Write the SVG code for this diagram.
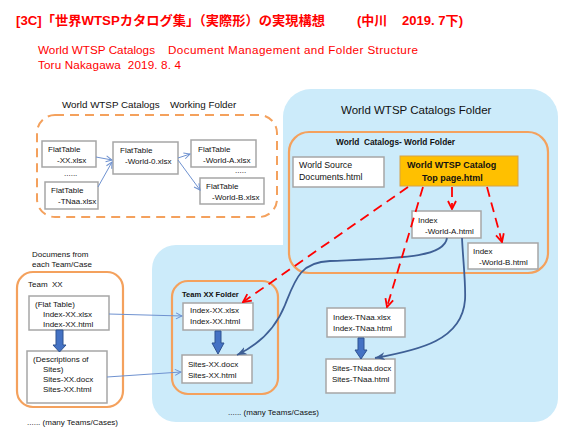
<svg xmlns="http://www.w3.org/2000/svg" width="565" height="431" viewBox="0 0 565 431">
<defs>
<style>
.t{font-family:"Liberation Sans",Arial,sans-serif;font-size:8px;fill:#111;white-space:pre}
.b{font-weight:bold}
.h{font-family:"Liberation Sans","Noto Sans CJK JP",sans-serif;font-weight:bold;font-size:13px;fill:#FF0000;white-space:pre}
.s{font-family:"Liberation Sans",Arial,sans-serif;font-size:11.7px;fill:#FF0000;white-space:pre}
.box{fill:#fff;stroke:#A6A6A6;stroke-width:1.5}
.or{fill:none;stroke:#F4A15D;stroke-width:2.2}
.red{fill:none;stroke:#FF0000;stroke-width:1.8;stroke-dasharray:10 6}
.blue{fill:none;stroke:#3E5F95;stroke-width:1.8}
.thin{fill:none;stroke:#6F92D0;stroke-width:1}
.blk{fill:#4472C4;stroke:#2F528F;stroke-width:1}
.bg{fill:#CCEBFA}
</style>
<marker id="mr" viewBox="0 0 10 10" refX="9" refY="5" markerWidth="10" markerHeight="10" markerUnits="userSpaceOnUse" orient="auto"><path d="M1,1 L9,5 L1,9" fill="none" stroke="#FF0000" stroke-width="1.8"/></marker>
<marker id="mb" viewBox="0 0 10 8" refX="10" refY="4" markerWidth="10" markerHeight="8" markerUnits="userSpaceOnUse" orient="auto"><path d="M0,0 L10,4 L0,8 L3,4 z" fill="#3E5F95"/></marker>
<marker id="mt" viewBox="0 0 8 8" refX="7" refY="4" markerWidth="8" markerHeight="8" markerUnits="userSpaceOnUse" orient="auto"><path d="M1,1 L7,4 L1,7" fill="none" stroke="#6F92D0" stroke-width="1"/></marker>
</defs>
<rect width="565" height="431" fill="#fff"/>

<g id="header">
<text class="h" x="16" y="25" textLength="309" lengthAdjust="spacingAndGlyphs">[3C]「世界WTSPカタログ集」（実際形）の実現構想</text>
<text class="h" x="357" y="25">(中川</text>
<text class="h" x="402" y="25" textLength="61" lengthAdjust="spacingAndGlyphs">2019. 7下)</text>
<text class="s" x="38" y="54" textLength="117">World WTSP Catalogs</text>
<text class="s" x="168" y="54" textLength="250">Document Management and Folder Structure</text>
<text class="s" x="38" y="69" textLength="143">Toru Nakagawa  2019. 8. 4</text>
</g>

<g id="catalogs-folder">
<rect class="bg" x="283" y="89" width="275" height="333" rx="28"/>
<rect class="bg" x="152" y="245" width="406" height="177" rx="24"/>
<text class="t" x="341" y="114" style="font-size:11.5px">World WTSP Catalogs Folder</text>
<text class="t" x="228" y="415">...... (many Teams/Cases)</text>
</g>

<g id="world-folder">
<rect class="or" x="289" y="132" width="259" height="141" rx="20"/>
<text class="t b" x="336" y="145" style="font-size:8.3px">World  Catalogs- World Folder</text>
</g>

<g id="world-source">
<rect class="box" x="293" y="157" width="91" height="30"/>
<text class="t" x="299" y="168" style="font-size:8.8px">World Source</text>
<text class="t" x="299" y="180" style="font-size:8.8px">Documents.html</text>
</g>

<g id="top-page">
<rect x="400" y="156" width="118" height="30" fill="#FFC000" stroke="#D4A24A" stroke-width="1"/>
<text class="t b" x="407" y="168" style="font-size:9px">World WTSP Catalog</text>
<text class="t b" x="422" y="181" style="font-size:9px">Top page.html</text>
</g>

<g id="index-world-a">
<rect class="box" x="412" y="211" width="69" height="27"/>
<text class="t" x="418" y="223">Index</text>
<text class="t" x="425" y="234">-World-A.html</text>
</g>

<g id="index-world-b">
<rect class="box" x="468" y="243" width="70" height="26"/>
<text class="t" x="473" y="254">Index</text>
<text class="t" x="479" y="265">-World-B.html</text>
</g>

<g id="working-folder">
<text class="t" x="62" y="108" style="font-size:9.8px">World WTSP Catalogs</text>
<text class="t" x="170" y="108" style="font-size:9.8px">Working Folder</text>
<rect x="37" y="115" width="240" height="102" rx="18" fill="none" stroke="#F4A15D" stroke-width="2" stroke-dasharray="9 6"/>
<text class="t" x="64" y="176">......</text>
<text class="t" x="235" y="173">.....</text>
</g>

<g id="ft-xx">
<rect class="box" x="42" y="141" width="54" height="26"/>
<text class="t" x="48" y="152">FlatTable</text>
<text class="t" x="57" y="163">-XX.xlsx</text>
</g>
<g id="ft-tnaa">
<rect class="box" x="45" y="182" width="53" height="27"/>
<text class="t" x="51" y="193">FlatTable</text>
<text class="t" x="58" y="204">-TNaa.xlsx</text>
</g>
<g id="ft-world-0">
<rect class="box" x="113" y="142" width="65" height="32"/>
<text class="t" x="120" y="153">FlatTable</text>
<text class="t" x="125" y="164">-World-0.xlsx</text>
</g>
<g id="ft-world-a">
<rect class="box" x="191" y="140" width="65" height="27"/>
<text class="t" x="198" y="152">FlatTable</text>
<text class="t" x="203" y="163">-World-A.xlsx</text>
</g>
<g id="ft-world-b">
<rect class="box" x="200" y="178" width="64" height="26"/>
<text class="t" x="206" y="189">FlatTable</text>
<text class="t" x="212" y="200">-World-B.xlsx</text>
</g>

<g id="team-xx">
<text class="t" x="32" y="257">Documens from</text>
<text class="t" x="32" y="267">each Team/Case</text>
<rect class="or" x="17" y="272" width="106" height="135" rx="16"/>
<text class="t" x="28" y="287">Team  XX</text>
<text class="t" x="27" y="425">...... (many Teams/Cases)</text>
</g>
<g id="team-index">
<rect class="box" x="29" y="296" width="80" height="34"/>
<text class="t" x="35" y="307">(Flat Table)</text>
<text class="t" x="43" y="317">Index-XX.xlsx</text>
<text class="t" x="43" y="327">Index-XX.html</text>
</g>
<g id="team-sites">
<rect class="box" x="27" y="351" width="80" height="52"/>
<text class="t" x="33" y="362">(Descriptions of</text>
<text class="t" x="43" y="372">Sites)</text>
<text class="t" x="43" y="382">Sites-XX.docx</text>
<text class="t" x="43" y="392">Sites-XX.html</text>
</g>

<g id="team-xx-folder">
<rect class="or" x="172" y="281" width="106" height="113" rx="16"/>
<text class="t b" x="182" y="297" style="font-size:7.6px">Team XX Folder</text>
</g>
<g id="index-xx">
<rect class="box" x="183" y="303" width="70" height="27"/>
<text class="t" x="190" y="313">Index-XX.xlsx</text>
<text class="t" x="190" y="324">Index-XX.html</text>
</g>
<g id="sites-xx">
<rect class="box" x="182" y="355" width="70" height="28"/>
<text class="t" x="188" y="367">Sites-XX.docx</text>
<text class="t" x="188" y="378">Sites-XX.html</text>
</g>

<g id="index-tnaa">
<rect class="box" x="327" y="308" width="78" height="29"/>
<text class="t" x="333" y="320">Index-TNaa.xlsx</text>
<text class="t" x="333" y="331">Index-TNaa.html</text>
</g>
<g id="sites-tnaa">
<rect class="box" x="326" y="359" width="69" height="34"/>
<text class="t" x="332" y="371">Sites-TNaa.docx</text>
<text class="t" x="332" y="382">Sites-TNaa.html</text>
</g>

<g id="connectors">
<line class="thin" x1="96" y1="157" x2="112" y2="160" marker-end="url(#mt)"/>
<line class="thin" x1="98" y1="187" x2="112" y2="162" marker-end="url(#mt)"/>
<line class="thin" x1="178" y1="158" x2="190" y2="154" marker-end="url(#mt)"/>
<line class="thin" x1="178" y1="160" x2="200" y2="190" marker-end="url(#mt)"/>
<line class="thin" x1="109" y1="314" x2="182" y2="316" marker-end="url(#mt)"/>
<line class="thin" x1="107" y1="377" x2="181" y2="372" marker-end="url(#mt)"/>
<path class="blk" d="M56,330 H63 V345 H66 L59.5,352 L53,345 H56 Z"/>
<path class="blk" d="M215,331 H221 V343 H224 L218,354 L212,343 H215 Z"/>
<path class="blk" d="M358,338 H364 V350 H367 L361,359 L355,350 H358 Z"/>
<path class="blue" d="M447,238 C444,258 400,258 330,261 C300,262 295,280 285,305 C275,330 258,345 237,355" marker-end="url(#mb)"/>
<path class="blue" d="M462,238 C463,260 466,285 465,300 C462,340 420,350 375,358" marker-end="url(#mb)"/>
<line class="red" x1="452" y1="187" x2="452" y2="209" marker-end="url(#mr)"/>
<line class="red" x1="487" y1="187" x2="502" y2="242" marker-end="url(#mr)"/>
<line class="red" x1="423" y1="187" x2="387" y2="307" marker-end="url(#mr)"/>
<line class="red" x1="408" y1="187" x2="243" y2="302" marker-end="url(#mr)"/>
</g>
</svg>
